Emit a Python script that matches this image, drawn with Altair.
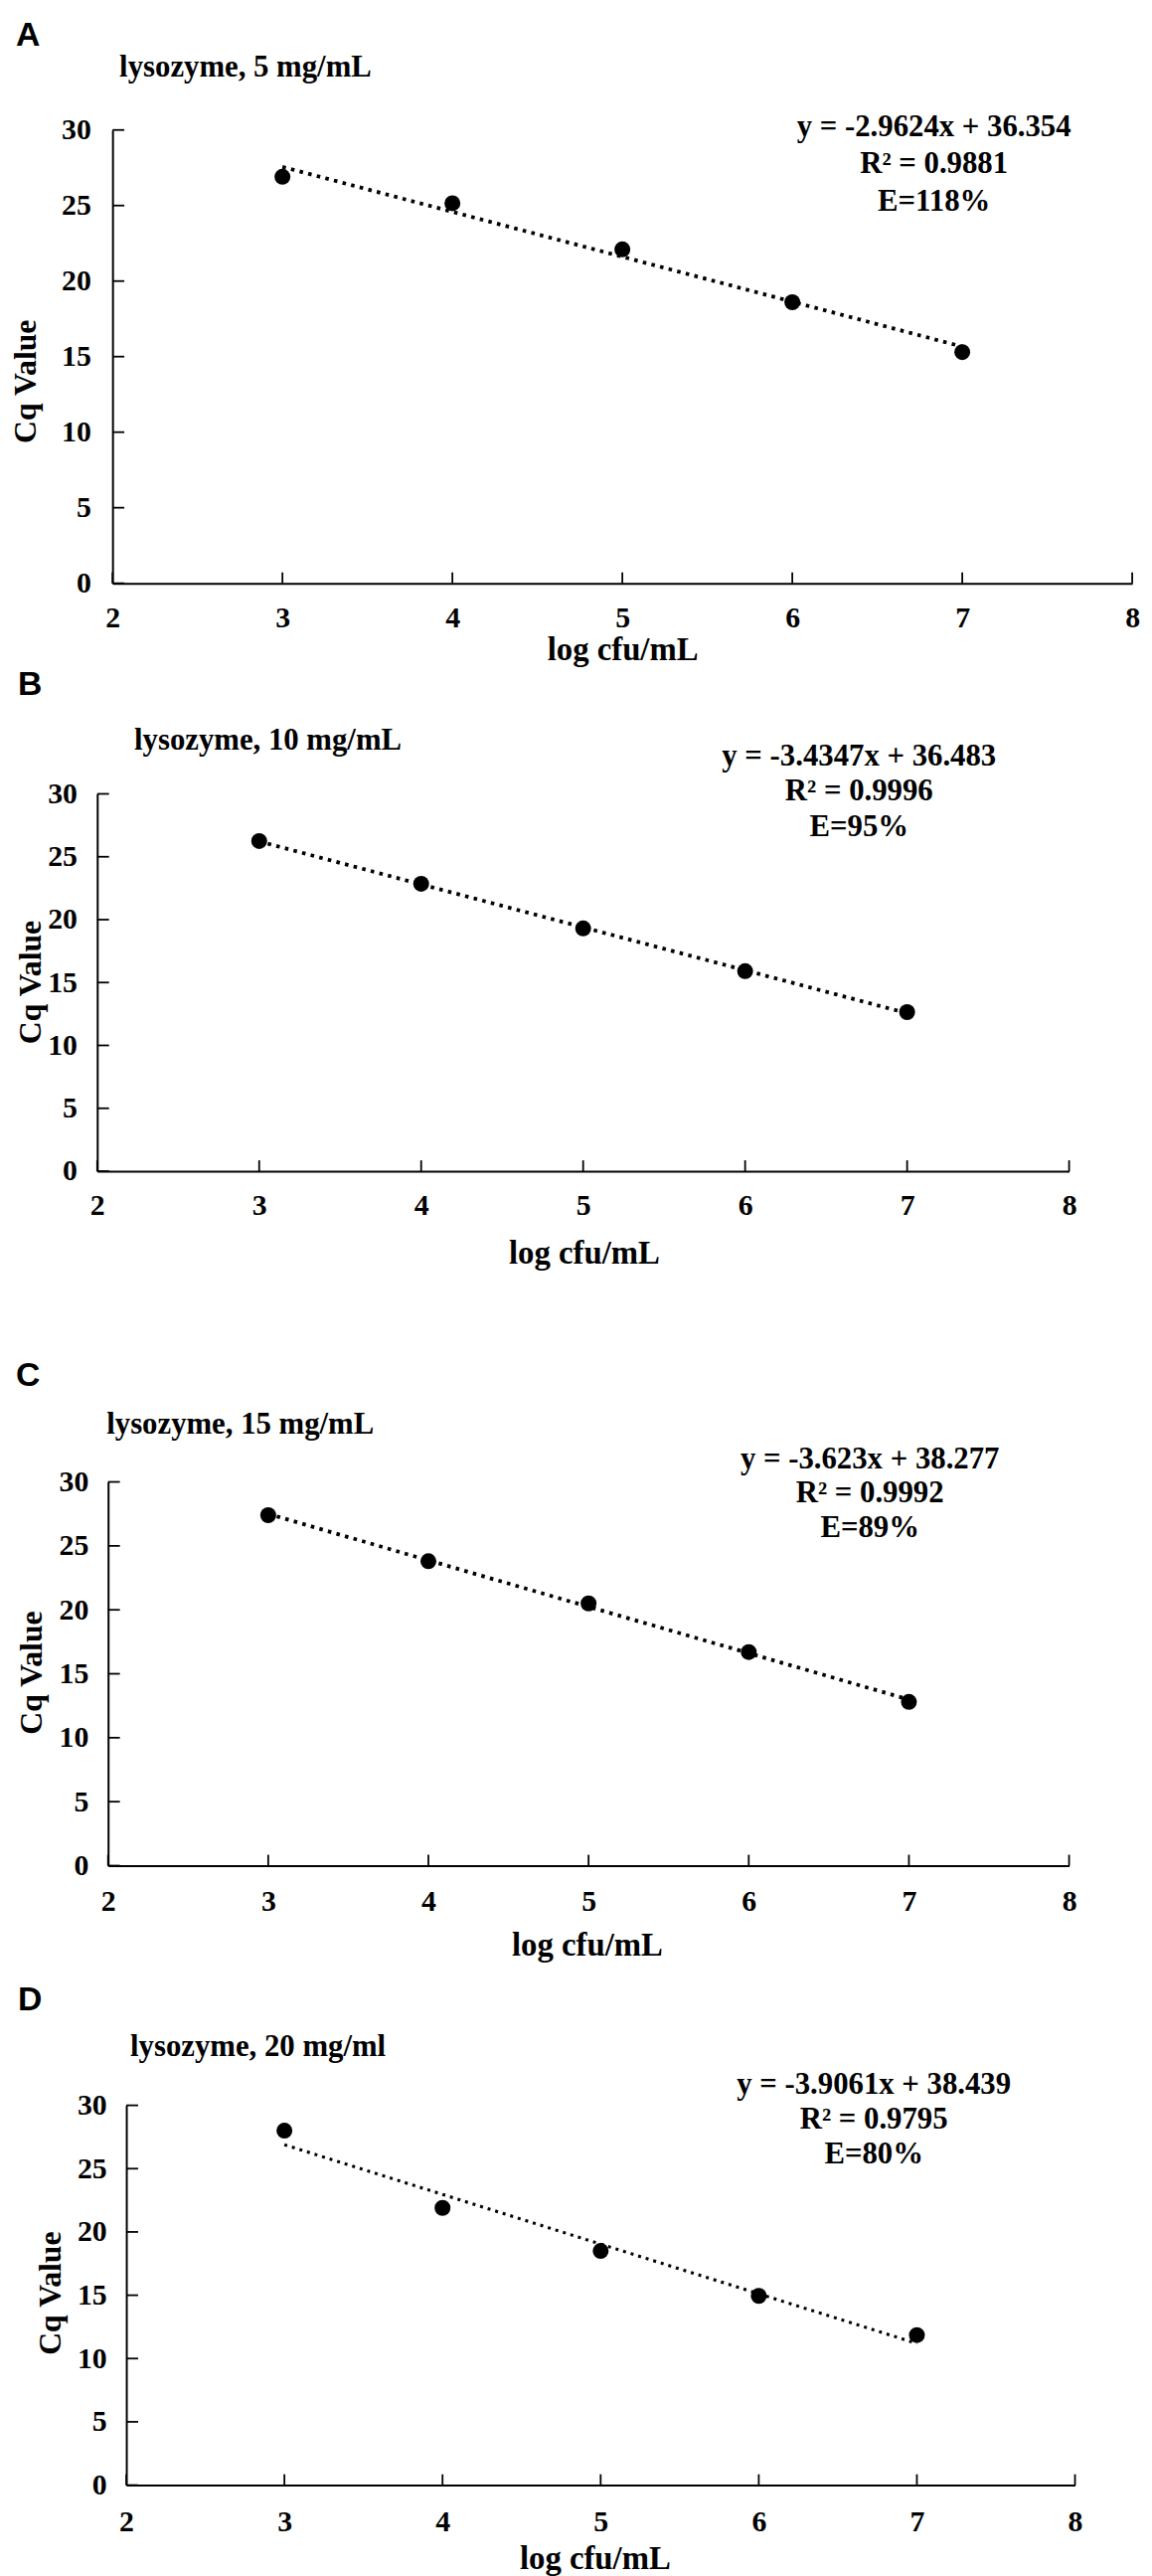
import altair as alt
import pandas as pd

# ---------------- data ----------------
log_cfu = [3, 4, 5, 6, 7]
cq_5 = [26.9, 25.15, 22.1, 18.6, 15.3]
cq_10 = [26.25, 22.85, 19.3, 15.9, 12.65]
cq_15 = [27.4, 23.8, 20.5, 16.7, 12.8]
cq_20 = [28.0, 21.9, 18.5, 14.95, 11.85]
series = [cq_5, cq_10, cq_15, cq_20]

x_ticks = [2, 3, 4, 5, 6, 7, 8]
y_ticks = [0, 5, 10, 15, 20, 25, 30]

letters = ["A", "B", "C", "D"]
titles = ["lysozyme, 5 mg/mL", "lysozyme, 10 mg/mL",
          "lysozyme, 15 mg/mL", "lysozyme, 20 mg/ml"]
eq_lines = [
    ["y = -2.9624x + 36.354", "R\u00b2 = 0.9881", "E=118%"],
    ["y = -3.4347x + 36.483", "R\u00b2 = 0.9996", "E=95%"],
    ["y = -3.623x + 38.277", "R\u00b2 = 0.9992", "E=89%"],
    ["y = -3.9061x + 38.439", "R\u00b2 = 0.9795", "E=80%"],
]
x_title = "log cfu/mL"
y_title = "Cq Value"

# ---------------- layout (pixels, per panel) ----------------
W = 1150
layout = [
    dict(H=652, left=105, right=1139, bottom=572, top=112.5,
         ylp=22, xlp=35, xtx=622, xty=67, ytx=-88.5, yty=367,
         lx=7, ly=27, tx=112, ty=58.5, ex=938, ey=119, elh=37.5,
         lw=3.8, dash=[3.6, 5.4]),
    dict(H=685, left=89.5, right=1075, bottom=510, top=127.5,
         ylp=20.5, xlp=35, xtx=583, xty=83, ytx=-67.5, yty=318,
         lx=9, ly=27, tx=127, ty=83, ex=862, ey=99, elh=35.5,
         lw=3.8, dash=[3.6, 5.4]),
    dict(H=640, left=100.5, right=1075, bottom=527, top=138,
         ylp=20, xlp=36.5, xtx=586, xty=81, ytx=-77.5, yty=331,
         lx=7, ly=41, tx=99, ty=89.5, ex=873, ey=124, elh=35,
         lw=3.8, dash=[3.6, 5.4]),
    dict(H=598, left=119, right=1081, bottom=513, top=128,
         ylp=20, xlp=37, xtx=594, xty=75, ytx=-77, yty=318,
         lx=9, ly=32, tx=123, ty=78, ex=877, ey=116, elh=35.5,
         lw=3.1, dash=[3.0, 5.0]),
]

SERIF = "Liberation Serif"
SANS = "Liberation Sans"


def panel(i):
    L = layout[i]
    df = pd.DataFrame({"x": log_cfu, "y": series[i]})
    xs = alt.Scale(domain=[2, 8], range=[L["left"], L["right"]], nice=False, zero=False)
    ys = alt.Scale(domain=[0, 30], range=[L["bottom"], L["top"]], nice=False, zero=False)
    xaxis = alt.Axis(
        values=x_ticks, orient="bottom", offset=-(L["H"] - L["bottom"]),
        ticks=False, tickSize=0, grid=False,
        domainColor="black", domainWidth=2,
        labelFont=SERIF, labelFontWeight="bold", labelFontSize=30, labelColor="black",
        labelPadding=L["xlp"], labelBaseline="middle", labelFlush=False,
        labelOverlap=False, labelBound=False,
        title=x_title, titleFont=SERIF, titleFontWeight="bold", titleFontSize=33,
        titleColor="black", titleX=L["xtx"], titleY=L["xty"],
        titleBaseline="middle", titleAlign="center",
    )
    yaxis = alt.Axis(
        values=y_ticks, orient="left", offset=-L["left"],
        ticks=False, tickSize=0, grid=False,
        domainColor="black", domainWidth=2,
        labelFont=SERIF, labelFontWeight="bold", labelFontSize=30, labelColor="black",
        labelPadding=L["ylp"], labelAlign="right", labelBaseline="middle",
        labelFlush=False, labelOverlap=False, labelBound=False,
        title=y_title, titleFont=SERIF, titleFontWeight="bold", titleFontSize=32,
        titleColor="black", titleX=L["ytx"], titleY=L["yty"], titleAngle=270,
        titleBaseline="middle", titleAlign="center",
    )
    xenc = alt.X("x:Q", scale=xs, axis=xaxis)
    yenc = alt.Y("y:Q", scale=ys, axis=yaxis)

    xt = alt.Chart(pd.DataFrame({"x": x_ticks})).mark_rule(
        color="black", strokeWidth=1.8).encode(
        x=xenc, y=alt.value(L["bottom"]), y2=alt.value(L["bottom"] - 11))
    yt = alt.Chart(pd.DataFrame({"y": y_ticks})).mark_rule(
        color="black", strokeWidth=1.8).encode(
        y=yenc, x=alt.value(L["left"]), x2=alt.value(L["left"] + 12))

    base = alt.Chart(df)
    fit = base.transform_regression("x", "y", extent=[3, 7]).mark_line(
        color="black", strokeWidth=L["lw"], strokeDash=L["dash"]).encode(x=xenc, y=yenc)
    pts = base.mark_circle(size=260, color="black", opacity=1).encode(x=xenc, y=yenc)

    one = pd.DataFrame({"k": [0]})
    letter = alt.Chart(one).mark_text(
        text=letters[i], font=SANS, fontWeight="bold", fontSize=34,
        align="left", baseline="alphabetic", color="black").encode(
        x=alt.value(L["lx"]), y=alt.value(L["ly"]))
    title = alt.Chart(one).mark_text(
        text=titles[i], font=SERIF, fontWeight="bold", fontSize=31,
        align="left", baseline="alphabetic", color="black").encode(
        x=alt.value(L["tx"]), y=alt.value(L["ty"]))
    eq = alt.Chart(one).mark_text(
        text=eq_lines[i], font=SERIF, fontWeight="bold", fontSize=31,
        lineHeight=L["elh"], align="center", baseline="alphabetic", color="black").encode(
        x=alt.value(L["ex"]), y=alt.value(L["ey"]))

    return alt.layer(xt, yt, fit, pts, letter, title, eq).properties(width=W, height=L["H"])


chart = alt.vconcat(*[panel(i) for i in range(4)], spacing=0).properties(
    padding=0, background="white"
).configure_view(stroke="transparent")

chart.save("out.html", embed_options={"renderer": "svg", "actions": False})
